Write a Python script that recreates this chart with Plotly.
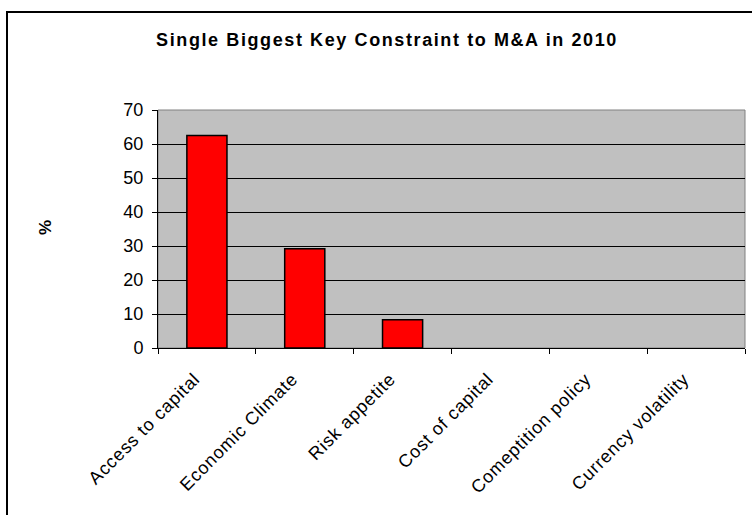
import plotly.graph_objects as go

categories = ["Access to capital", "Economic Climate", "Risk appetite",
              "Cost of capital", "Comeptition policy", "Currency volatility"]
values = [62.5, 29.2, 8.3, 0, 0, 0]
y_ticks = [0, 10, 20, 30, 40, 50, 60, 70]

W, H = 752, 515
L, R, T, B = 158, 7, 110, 167
pw, ph = W - L - R, H - T - B

def px_x(p):
    return (p - L) / pw

def px_y(p):
    return (H - B - p) / ph

fig = go.Figure()
fig.add_trace(go.Bar(
    x=categories, y=values,
    marker=dict(color="#FF0000",
                line=dict(color="#000000",
                          width=[1.5 if v > 0 else 0 for v in values])),
    width=0.41,
))

FONT = "Liberation Sans, Arial, sans-serif"
PAD = "\u00a0" * 3
fig.update_layout(
    width=W, height=H,
    margin=dict(l=L, r=R, t=T, b=B),
    paper_bgcolor="white",
    plot_bgcolor="#C0C0C0",
    showlegend=False,
    font=dict(family=FONT, color="#000000", size=18),
    title=dict(text="<span style='letter-spacing:1.6px'><b>Single Biggest Key Constraint to M&A in 2010</b></span>",
               x=px_x(387), xanchor="center", xref="paper",
               y=1 - 40 / H, yanchor="middle",
               font=dict(size=18)),
)
fig.update_xaxes(
    type="category", tickangle=-45, tickson="boundaries",
    ticks="outside", ticklen=5, tickcolor="#000000",
    showline=True, linecolor="#000000", linewidth=1,
    showgrid=False, tickfont=dict(size=18),
    tickvals=categories,
    ticktext=["<span style='letter-spacing:0.8px'>" + c + PAD + "</span>" for c in categories],
)
fig.update_yaxes(
    range=[0, 70], tickvals=y_ticks, ticktext=[str(v) for v in y_ticks],
    ticks="outside", ticklen=5, tickcolor="#000000",
    showline=True, linecolor="#000000", linewidth=1,
    showgrid=True, gridcolor="#000000", gridwidth=1,
    zeroline=False, tickfont=dict(size=18), ticklabelstandoff=5,
)

fig.add_annotation(text="<b>%</b>", xref="paper", yref="paper",
                   x=px_x(45), y=px_y(228), xanchor="center", yanchor="middle",
                   textangle=-90, showarrow=False, font=dict(size=17))

# plot area border (gray) and outer chart border
fig.add_shape(type="rect", xref="paper", yref="paper", x0=0, y0=0, x1=1, y1=1,
              line=dict(color="#808080", width=1), layer="below")
fig.add_shape(type="rect", xref="paper", yref="paper",
              x0=px_x(7), y0=px_y(H + 20), x1=px_x(W + 20), y1=px_y(12),
              line=dict(color="#000000", width=2))

fig.write_html("out.html")
